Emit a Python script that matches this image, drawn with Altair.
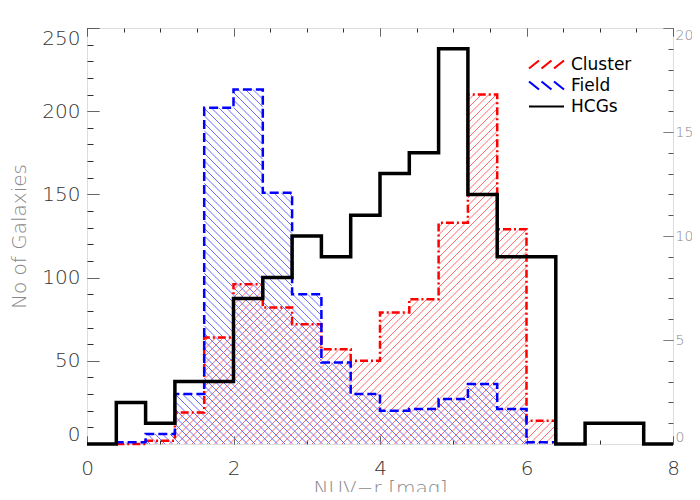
import math
import altair as alt
import pandas as pd

# ---------------- data ----------------
bin_width = 0.4
hcg_start = 0.0
# HCG galaxies per 0.4 mag bin, 0.0 .. 8.0  (right axis)
hcg_counts = [0, 2, 1, 3, 3, 7, 8, 10, 9, 11, 13, 14, 19, 12, 9, 9, 0, 1, 1, 0]
cf_start = 0.4
# Cluster / Field galaxies per 0.4 mag bin, 0.4 .. 6.4 (left axis)
cluster_counts = [0, 2, 19, 64, 96, 82, 72, 57, 50, 79, 87, 133, 210, 129, 14]
field_counts = [1, 6, 30, 202, 213, 151, 90, 49, 30, 20, 21, 27, 36, 21, 1]

series_names = ["Cluster", "Field", "HCGs"]
series_colors = ["#ff0000", "#0000ff", "#000000"]

x_ticks = [i * 0.5 for i in range(17)]
x_major = 2
left_ticks = list(range(0, 251, 10))
left_major = 50
right_ticks = list(range(0, 21))
right_major = 5

X_DOMAIN = [0, 8]
LEFT_DOMAIN = [0, 250]
RIGHT_DOMAIN = [0, 20]

# ---------------- layout ----------------
W, H = 586, 416
FONT = "DejaVu Sans"
FW = 200
sx = W / X_DOMAIN[1]
sy = H / LEFT_DOMAIN[1]
SP = 7.5  # hatch spacing in px


def step_frame(counts, start):
    xs, ys = [], []
    xs.append(start); ys.append(0)
    for i, c in enumerate(counts):
        xs.append(start + i * bin_width); ys.append(c)
    end = start + len(counts) * bin_width
    xs.append(end); ys.append(counts[-1])
    xs.append(end); ys.append(0)
    return pd.DataFrame({"x": xs, "y": ys, "i": list(range(len(xs)))})


def hcg_frame(counts, start):
    xs = [start + i * bin_width for i in range(len(counts))]
    ys = list(counts)
    xs.append(start + len(counts) * bin_width); ys.append(counts[-1])
    return pd.DataFrame({"x": xs, "y": ys, "i": list(range(len(xs)))})


def hatch_frame(counts, start, direction):
    rows = []
    for i, c in enumerate(counts):
        if c <= 0:
            continue
        X0 = (start + i * bin_width) * sx
        X1 = X0 + bin_width * sx
        Hc = c * sy
        if direction > 0:
            kmin = math.floor((X0 - Hc) / SP); kmax = math.ceil(X1 / SP)
            for k in range(kmin, kmax + 1):
                cc = k * SP
                lo = max(X0, cc); hi = min(X1, cc + Hc)
                if hi - lo > 0.05:
                    rows.append((lo / sx, (lo - cc) / sy, hi / sx, (hi - cc) / sy))
        else:
            kmin = math.floor(X0 / SP); kmax = math.ceil((X1 + Hc) / SP)
            for k in range(kmin, kmax + 1):
                cc = k * SP + 3
                lo = max(X0, cc - Hc); hi = min(X1, cc)
                if hi - lo > 0.05:
                    rows.append((lo / sx, (cc - lo) / sy, hi / sx, (cc - hi) / sy))
    return pd.DataFrame(rows, columns=["x", "y", "x2", "y2"])


def minor_cond(expr, dash, off):
    return (
        {"condition": {"test": expr, "value": [dash, dash]}, "value": [1, 0]},
        {"condition": {"test": expr, "value": off}, "value": 0},
    )


xd, xo = minor_cond(f"datum.value % {x_major} !== 0", 4, 4)
ld, lo_ = minor_cond(f"datum.value % {left_major} !== 0", 6, 6)
rd, ro = minor_cond(f"datum.value % {right_major} !== 0", 5, 5)

x_bottom = alt.Axis(
    values=x_ticks, orient="bottom", format="d",
    labelExpr=f"datum.value % {x_major} === 0 ? datum.label : ''",
    tickSize=8, offset=-8, domain=False, grid=False, tickColor="#333",
    tickDash=xd, tickDashOffset=xo, labelFlush=False, labelOverlap=False,
    labelPadding=14, labelFontSize=20, labelColor="#333", labelFont=FONT, labelFontWeight=FW,
    title="NUV\u2212r [mag]", titleFontSize=20, titleColor="#888", titleFont=FONT,
    titleFontWeight=FW, titlePadding=0,
)
x_top = alt.Axis(
    values=x_ticks, orient="top", labels=False, title=None,
    tickSize=8, offset=-8, domain=False, grid=False, tickColor="#333",
    tickDash=xd, tickDashOffset=xo,
)
y_left = alt.Axis(
    values=left_ticks, orient="left",
    labelExpr=f"datum.value % {left_major} === 0 ? datum.label : ''",
    tickSize=12, offset=-12, domain=False, grid=False, tickColor="#333",
    tickDash=ld, tickDashOffset=lo_, labelFlush=True, labelOverlap=False,
    labelPadding=7, labelFontSize=20, labelColor="#333", labelFont=FONT, labelFontWeight=FW,
    title="No of Galaxies", titleFontSize=20, titleColor="#888", titleFont=FONT,
    titleFontWeight=FW, titlePadding=12,
)
y_right = alt.Axis(
    values=right_ticks, orient="right",
    labelExpr=f"datum.value % {right_major} === 0 ? datum.label : ''",
    tickSize=10, offset=-10, domain=False, grid=False, tickColor="#555",
    tickDash=rd, tickDashOffset=ro, labelFlush=True, labelOverlap=False,
    labelPadding=2, labelFontSize=14, labelColor="#888", labelFont=FONT, labelFontWeight=FW,
    title=None,
)

xs_left = alt.Scale(domain=X_DOMAIN, nice=False, zero=False)
ys_left = alt.Scale(domain=LEFT_DOMAIN, nice=False)
ys_right = alt.Scale(domain=RIGHT_DOMAIN, nice=False)


def X(field="x"):
    return alt.X(f"{field}:Q", scale=xs_left, axis=x_bottom)


def Y(field="y"):
    return alt.Y(f"{field}:Q", scale=ys_left, axis=y_left)


hatch_c = alt.Chart(hatch_frame(cluster_counts, cf_start, +1)).mark_rule(
    color="#ff6a6a", strokeWidth=1
).encode(x=X(), y=Y(), x2="x2:Q", y2="y2:Q")

hatch_f = alt.Chart(hatch_frame(field_counts, cf_start, -1)).mark_rule(
    color="#6a6aff", strokeWidth=1
).encode(x=X(), y=Y(), x2="x2:Q", y2="y2:Q")

line_c = alt.Chart(step_frame(cluster_counts, cf_start)).mark_line(
    interpolate="step-after", color="#ff0000", strokeWidth=2.5, strokeDash=[8, 3, 2, 3]
).encode(x=X(), y=Y(), order="i:Q")

line_f = alt.Chart(step_frame(field_counts, cf_start)).mark_line(
    interpolate="step-after", color="#0000ff", strokeWidth=2.5, strokeDash=[9, 4]
).encode(x=X(), y=Y(), order="i:Q")

# legend symbols: 35 px wide with a 20 px nominal box
shape_paths = [
    "M-1.75,0.4L-0.75,-0.4M-0.5,0.4L0.5,-0.4M0.75,0.4L1.75,-0.4",
    "M-1.75,-0.4L-0.75,0.4M-0.5,-0.4L0.5,0.4M0.75,-0.4L1.75,0.4",
    "M-1.75,0L1.75,0",
]

legend_df = pd.DataFrame({"series": series_names, "x": [0, 0, 0], "y": [0, 0, 0]})
legend = alt.Legend(
    orient="none", legendX=448, legendY=25, title=None, padding=0,
    labelFont=FONT, labelFontSize=17, labelColor="#000", labelFontWeight=400,
    labelOffset=13, symbolSize=400, symbolStrokeWidth=2.2, symbolOpacity=1,
    symbolFillColor="transparent", rowPadding=1,
)
legend_layer = alt.Chart(legend_df).mark_point(filled=False, strokeWidth=2).encode(
    x=X(), y=Y(),
    color=alt.Color("series:N", scale=alt.Scale(domain=series_names, range=series_colors), legend=legend),
    shape=alt.Shape("series:N", scale=alt.Scale(domain=series_names, range=shape_paths), legend=legend),
).transform_filter("false")

left = alt.layer(hatch_c, hatch_f, line_c, line_f, legend_layer)

hcg = alt.Chart(hcg_frame(hcg_counts, hcg_start)).mark_line(
    interpolate="step-after", color="#000000", strokeWidth=3.5
).encode(
    x=alt.X("x:Q", scale=xs_left, axis=x_top),
    y=alt.Y("y:Q", scale=ys_right, axis=y_right),
    order="i:Q",
)

chart = alt.layer(left, hcg).resolve_scale(y="independent").resolve_axis(
    x="independent", y="independent"
).properties(
    width=W, height=H,
    autosize=alt.AutoSizeParams(type="none"),
    padding={"left": 79, "top": 20, "right": 19, "bottom": 48},
).configure_view(stroke="#555", strokeWidth=1).configure(font=FONT)

chart.save("out.html", embed_options={"renderer": "svg", "actions": False})
